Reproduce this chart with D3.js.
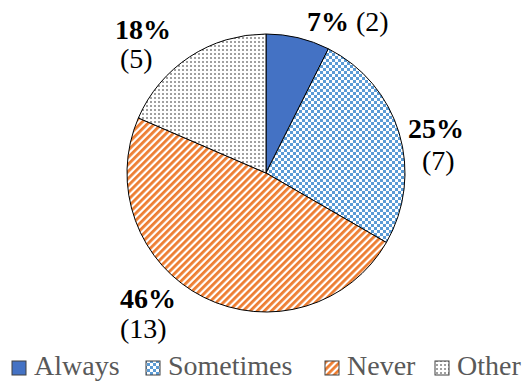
<!DOCTYPE html>
<html>
<head>
<meta charset="utf-8">
<script src="https://cdn.jsdelivr.net/npm/d3@7"></script>
<style>
  body { margin: 0; background: #fff; }
</style>
</head>
<body>
<div id="chart"></div>
<script>
// Survey answers (counts) and the percentage labels printed on the chart
const categories = ["Always", "Sometimes", "Never", "Other"];
const counts = [2, 7, 13, 5];
const pctLabels = ["7%", "25%", "46%", "18%"];

const width = 532, height = 383;
const cx = 266, cy = 173, radius = 139;
const serif = "Liberation Serif";

const svg = d3.select("#chart")
  .append("svg")
  .attr("width", width)
  .attr("height", height);

// Fill patterns, one per category (Excel-like)
const defs = svg.append("defs");

// Sometimes - small checkerboard
const pCheck = defs.append("pattern")
  .attr("id", "pat-Sometimes")
  .attr("patternUnits", "userSpaceOnUse")
  .attr("width", 6).attr("height", 6);
pCheck.append("rect").attr("width", 6).attr("height", 6).attr("fill", "#fff");
pCheck.append("rect").attr("width", 3).attr("height", 3).attr("fill", "#5B9BD5");
pCheck.append("rect").attr("x", 3).attr("y", 3).attr("width", 3).attr("height", 3).attr("fill", "#5B9BD5");

// Never - wide upward diagonal
const pDiag = defs.append("pattern")
  .attr("id", "pat-Never")
  .attr("patternUnits", "userSpaceOnUse")
  .attr("width", 5).attr("height", 5)
  .attr("patternTransform", "rotate(45)");
pDiag.append("rect").attr("width", 5).attr("height", 5).attr("fill", "#fff");
pDiag.append("rect").attr("width", 2.8).attr("height", 5).attr("fill", "#ED7D31");

// Other - grey dotted grid
const pDot = defs.append("pattern")
  .attr("id", "pat-Other")
  .attr("patternUnits", "userSpaceOnUse")
  .attr("width", 4).attr("height", 4);
pDot.append("rect").attr("width", 4).attr("height", 4).attr("fill", "#fff");
pDot.append("rect").attr("width", 2).attr("height", 2).attr("fill", "#A0A0A0");

const color = d3.scaleOrdinal()
  .domain(categories)
  .range(["#4472C4", "url(#pat-Sometimes)", "url(#pat-Never)", "url(#pat-Other)"]);

// Pie, clockwise from 12 o'clock in data order
const pie = d3.pie().sort(null).value((d) => d.value);
const arc = d3.arc().innerRadius(0).outerRadius(radius);

const data = categories.map((c, i) => ({ key: c, value: counts[i] }));

const g = svg.append("g").attr("transform", `translate(${cx},${cy})`);

g.selectAll("path")
  .data(pie(data))
  .join("path")
  .attr("d", arc)
  .attr("fill", (d) => color(d.data.key))
  .attr("stroke", "#000")
  .attr("stroke-width", 1);

// Data labels - placed as in the original (left x, baseline y of each line)
const labelPos = [
  { x: 307, y: 31, inline: true },
  { x: 408, y: 138, x2: 422, y2: 170 },
  { x: 120, y: 308, x2: 120, y2: 338 },
  { x: 115, y: 39, x2: 120, y2: 68 },
];

categories.forEach((c, i) => {
  const p = labelPos[i];
  if (p.inline) {
    const t = svg.append("text")
      .attr("x", p.x).attr("y", p.y)
      .style("font-family", serif)
      .style("font-size", "28px").attr("fill", "#000");
    t.append("tspan").style("font-weight", "bold").text(pctLabels[i]);
    t.append("tspan").text(" (" + counts[i] + ")");
  } else {
    svg.append("text")
      .attr("x", p.x).attr("y", p.y)
      .style("font-family", serif)
      .style("font-size", "28px").style("font-weight", "bold")
      .attr("fill", "#000")
      .text(pctLabels[i]);
    svg.append("text")
      .attr("x", p.x2).attr("y", p.y2)
      .style("font-family", serif)
      .style("font-size", "28px")
      .attr("fill", "#000")
      .text("(" + counts[i] + ")");
  }
});

// Legend along the bottom
const legendX = [12, 146, 325, 435];
const legend = svg.append("g").attr("class", "legend");

categories.forEach((c, i) => {
  legend.append("rect")
    .attr("x", legendX[i]).attr("y", 361)
    .attr("width", 14).attr("height", 14)
    .attr("fill", color(c))
    .attr("stroke", "#404040")
    .attr("stroke-width", 1);

  legend.append("text")
    .attr("x", legendX[i] + 22).attr("y", 375)
    .style("font-family", serif)
    .style("font-size", "28px")
    .attr("fill", "#595959")
    .text(c);
});
</script>
</body>
</html>
